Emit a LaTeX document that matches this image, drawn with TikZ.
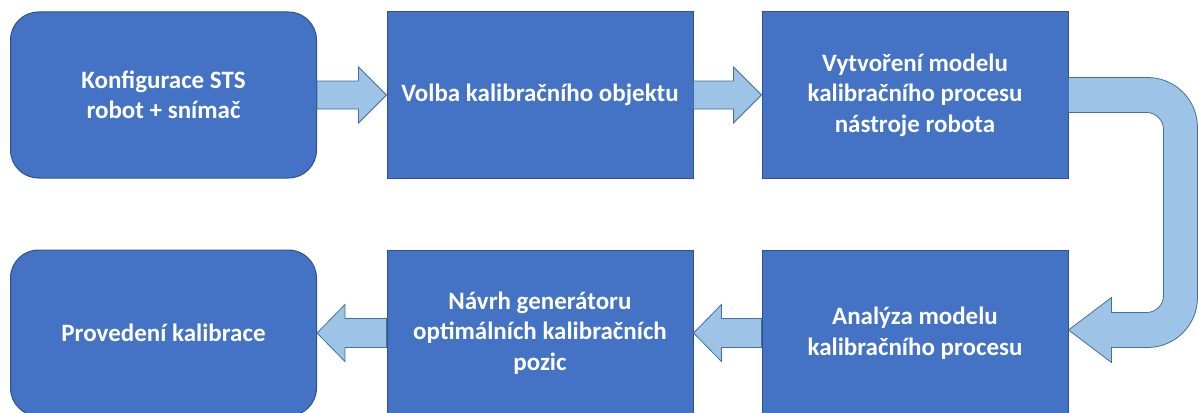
\documentclass[tikz,border=0pt]{standalone}
\usepackage{fontspec}
\setmainfont{Carlito}
\usetikzlibrary{calc}
\definecolor{boxblue}{HTML}{4472C4}
\definecolor{boxedge}{HTML}{2F528F}
\definecolor{arrowblue}{HTML}{9DC3E6}
\definecolor{arrowedge}{HTML}{41719C}

\begin{document}
\begin{tikzpicture}[
  x=1pt, y=-1pt,
  stepbox/.style={rectangle, draw=boxedge, fill=boxblue, line width=1pt, minimum width=306pt, minimum height=166pt, text=white, font=\bfseries\fontsize{25}{30.5}\selectfont, align=center, inner sep=0pt},
  roundbox/.style={stepbox, rounded corners=28pt},
  blockarrow/.style={fill=arrowblue, draw=arrowedge, line width=0.8pt, line join=miter},
]
\clip (0,0) rectangle (1198,412);

% Top row
\node[roundbox] (config) at (163.5, 95) {Konfigurace STS\\robot + snímač};
\node[stepbox] (object) at (540, 95) {Volba kalibračního objektu};
\node[stepbox] (model) at (915, 95) {Vytvoření modelu\\kalibračního procesu\\nástroje robota};

% Bottom row
\node[roundbox] (calib) at (163.5, 333) {Provedení kalibrace};
\node[stepbox] (generator) at (540, 333) {Návrh generátoru\\optimálních kalibračních\\pozic};
\node[stepbox] (analysis) at (915, 333) {Analýza modelu\\kalibračního procesu};

% Straight block arrows
\draw[blockarrow] ($(config.east)+(0,-14)$) -- ($(object.west)+(-28,-14)$) -- ($(object.west)+(-28,-28)$) -- (object.west) -- ($(object.west)+(-28,28)$) -- ($(object.west)+(-28,14)$) -- ($(config.east)+(0,14)$) -- cycle;
\draw[blockarrow] ($(object.east)+(0,-14)$) -- ($(model.west)+(-28,-14)$) -- ($(model.west)+(-28,-28)$) -- (model.west) -- ($(model.west)+(-28,28)$) -- ($(model.west)+(-28,14)$) -- ($(object.east)+(0,14)$) -- cycle;
\draw[blockarrow] ($(analysis.west)+(0,-14.5)$) -- ($(generator.east)+(28,-14.5)$) -- ($(generator.east)+(28,-28.5)$) -- (generator.east) -- ($(generator.east)+(28,28.5)$) -- ($(generator.east)+(28,14.5)$) -- ($(analysis.west)+(0,14.5)$) -- cycle;
\draw[blockarrow] ($(generator.west)+(0,-14.5)$) -- ($(calib.east)+(28,-14.5)$) -- ($(calib.east)+(28,-28.5)$) -- (calib.east) -- ($(calib.east)+(28,28.5)$) -- ($(calib.east)+(28,14.5)$) -- ($(generator.west)+(0,14.5)$) -- cycle;

% U-turn arrow
\coordinate (tip) at ($(analysis.east)+(0,-3)$);
\draw[blockarrow] ($(model.east)+(0,-17.5)$) [rounded corners=50pt] -- ($(model.east)+(129,-17.5)$) -- ($(tip)+(129,17.5)$) [sharp corners] -- ($(tip)+(43,17.5)$) -- ($(tip)+(43,32.5)$) -- (tip) -- ($(tip)+(43,-32.5)$) -- ($(tip)+(43,-17.5)$) [rounded corners=17pt] -- ($(tip)+(95,-17.5)$) -- ($(model.east)+(95,17.5)$) [sharp corners] -- ($(model.east)+(0,17.5)$) -- cycle;

\end{tikzpicture}
\end{document}
